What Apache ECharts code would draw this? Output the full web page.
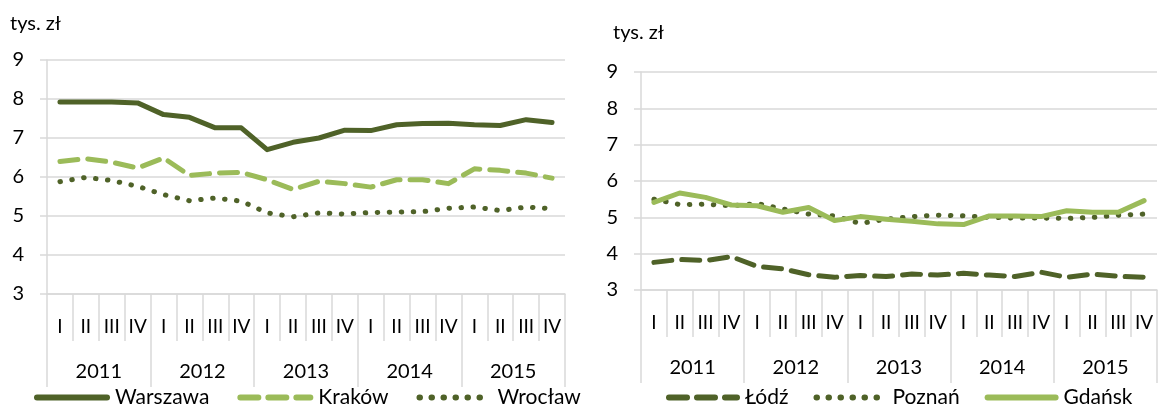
<!DOCTYPE html>
<html>
<head>
<meta charset="utf-8">
<script src="https://cdn.jsdelivr.net/npm/echarts@6/dist/echarts.min.js"></script>
<style>
  html, body { margin: 0; padding: 0; background: #fff; }
  #chart { width: 1159px; height: 405px; }
</style>
</head>
<body>
<div id="chart"></div>
<script>
var quarters = [];
for (var y = 0; y < 5; y++) quarters.push("I", "II", "III", "IV");
var years = ["2011", "2012", "2013", "2014", "2015"];

var warszawa = [7.92, 7.92, 7.92, 7.90, 7.60, 7.53, 7.26, 7.26, 6.70, 6.89, 7.00, 7.20, 7.19, 7.34, 7.37, 7.38, 7.34, 7.32, 7.47, 7.40];
var krakow = [6.40, 6.47, 6.38, 6.23, 6.49, 6.04, 6.10, 6.12, 5.93, 5.68, 5.89, 5.83, 5.74, 5.93, 5.93, 5.83, 6.21, 6.17, 6.10, 5.97];
var wroclaw = [5.88, 5.99, 5.91, 5.76, 5.55, 5.39, 5.46, 5.38, 5.08, 4.98, 5.08, 5.05, 5.09, 5.10, 5.11, 5.20, 5.23, 5.14, 5.23, 5.19];

var lodz = [3.76, 3.84, 3.81, 3.92, 3.65, 3.58, 3.42, 3.35, 3.40, 3.37, 3.44, 3.41, 3.46, 3.41, 3.37, 3.49, 3.35, 3.44, 3.38, 3.35];
var poznan = [5.50, 5.35, 5.36, 5.32, 5.38, 5.23, 5.09, 5.04, 4.83, 4.95, 5.02, 5.06, 5.04, 5.00, 4.98, 4.98, 4.97, 5.00, 5.06, 5.09];
var gdansk = [5.41, 5.67, 5.55, 5.34, 5.32, 5.14, 5.27, 4.91, 5.02, 4.95, 4.89, 4.82, 4.80, 5.04, 5.04, 5.02, 5.18, 5.14, 5.14, 5.46];

var dark = "#4f6228";
var light = "#9bbb59";
var gridCol = "#d9d9d9";
var font = "Lato";

var solid = "solid", dashed = [18, 10], dotted = [0.5, 11.5];

function quarterAxis(g) {
  return {
    type: "category", gridIndex: g, data: quarters, position: "bottom",
    axisLine: { lineStyle: { color: gridCol, width: 1.5 } },
    axisTick: { show: true, interval: 0, length: 47, lineStyle: { color: gridCol, width: 1.5 } },
    axisLabel: { interval: 0, margin: 23, color: "#000", fontSize: 19, fontFamily: font }
  };
}
function yearAxis(g) {
  return {
    type: "category", gridIndex: g, data: years, position: "bottom",
    axisLine: { show: false },
    axisTick: { show: true, interval: 0, length: 93, lineStyle: { color: gridCol, width: 1.5 } },
    axisLabel: { interval: 0, margin: 68, color: "#000", fontSize: 20, fontFamily: font }
  };
}
function valAxis(g) {
  return {
    type: "value", gridIndex: g, min: 3, max: 9, interval: 1,
    axisLine: { show: true, lineStyle: { color: gridCol, width: 1.5 } },
    axisTick: { show: true, length: 7, lineStyle: { color: gridCol, width: 1.5 } },
    splitLine: { lineStyle: { color: gridCol, width: 1.5 } },
    axisLabel: { margin: 23, color: "#000", fontSize: 20, fontFamily: font }
  };
}
function line(name, data, axis, color, type) {
  return {
    name: name, type: "line", data: data, xAxisIndex: axis, yAxisIndex: axis === 0 ? 0 : 1,
    showSymbol: false, silent: true,
    lineStyle: { color: color, width: 5, type: type, cap: "round", join: "round" },
    itemStyle: { color: color }
  };
}

var legendCommon = {
  top: 382, itemHeight: 10,
  itemStyle: { opacity: 0 },
  lineStyle: { width: 6, cap: "round" },
  textStyle: { fontSize: 21, fontFamily: font, color: "#000", padding: [0, 0, 0, 3] }
};

var chart = echarts.init(document.getElementById("chart"));
chart.setOption({
  animation: false,
  grid: [
    { left: 47, right: 594, top: 60, bottom: 111 },
    { left: 641, right: 2, top: 72, bottom: 115 }
  ],
  xAxis: [quarterAxis(0), quarterAxis(1), yearAxis(0), yearAxis(1)],
  yAxis: [valAxis(0), valAxis(1)],
  legend: [
    Object.assign({ data: ["Warszawa", "Kraków", "Wrocław"], left: 29, itemWidth: 70, itemGap: 28 }, legendCommon),
    Object.assign({ data: ["Łódź", "Poznań", "Gdańsk"], left: 661, itemWidth: 68, itemGap: 25 }, legendCommon)
  ],
  graphic: [
    { type: "text", left: 10, top: 14, style: { text: "tys. zł", fontSize: 20, fontFamily: font, fill: "#000" } },
    { type: "text", left: 613, top: 23, style: { text: "tys. zł", fontSize: 20, fontFamily: font, fill: "#000" } }
  ],
  series: [
    line("Warszawa", warszawa, 0, dark, solid),
    line("Kraków", krakow, 0, light, dashed),
    line("Wrocław", wroclaw, 0, dark, dotted),
    line("Łódź", lodz, 1, dark, dashed),
    line("Poznań", poznan, 1, dark, dotted),
    line("Gdańsk", gdansk, 1, light, solid)
  ]
});
</script>
</body>
</html>
